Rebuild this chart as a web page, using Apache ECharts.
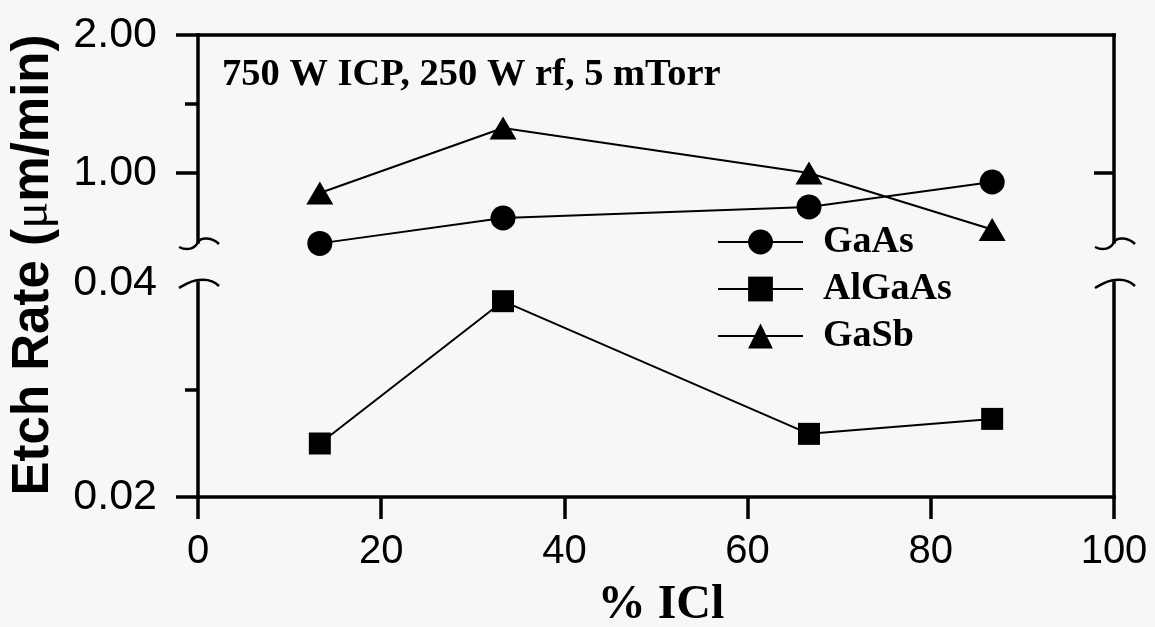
<!DOCTYPE html>
<html><head><meta charset="utf-8">
<script src="https://cdn.jsdelivr.net/npm/echarts@6/dist/echarts.min.js"></script>
<style>html,body{margin:0;padding:0;background:#f7f7f7}#c{width:1155px;height:627px}</style>
</head><body><div id="c"></div>
<script>
// ---- data ----
const xValues = [13.3, 33.3, 66.7, 86.7];
const gaas = [0.49, 0.674, 0.754, 0.935];
const algaas = [0.0250, 0.0383, 0.0259, 0.0273];
const gasb = [0.855, 1.326, 1.0, 0.59];
const seriesNames = ['GaAs', 'AlGaAs', 'GaSb'];
const upperLabels = [1, 2];
const upperMinor = [1.5];
const lowerLabels = [0.02, 0.04];
const lowerMinor = [0.03];
const titleText = '750 W ICP, 250 W rf, 5 mTorr';
const xTitle = '% ICl';

const SANS = '"Liberation Sans", Arial, sans-serif';
const SERIF = '"Liberation Serif", "Times New Roman", serif';
const AX = 3.5;
const lineS = {color: '#000', width: AX, cap: 'square'};
const tickS = {color: '#000', width: AX};

const chart = echarts.init(document.getElementById('c'), null, {renderer: 'canvas'});

const pair = arr => xValues.map((x, i) => [x, arr[i]]);

const option = {
  backgroundColor: '#f7f7f7',
  animation: false,
  grid: [
    {left: 198, right: 41, top: 35, height: 207, outerBoundsMode: 'none', containLabel: false},
    {left: 198, right: 41, top: 283, height: 214, outerBoundsMode: 'none', containLabel: false}
  ],
  xAxis: [
    {gridIndex: 0, type: 'value', min: 0, max: 100, interval: 20, position: 'top',
     axisLine: {show: true, onZero: false, lineStyle: lineS}, axisTick: {show: false},
     axisLabel: {show: false}, splitLine: {show: false}},
    {gridIndex: 1, type: 'value', min: 0, max: 100, interval: 20, position: 'bottom',
     axisLine: {show: true, onZero: false, lineStyle: lineS},
     axisTick: {show: true, length: 22, lineStyle: tickS},
     axisLabel: {margin: 35, fontSize: 40, fontFamily: SANS, color: '#000'},
     splitLine: {show: false}}
  ],
  yAxis: [
    {gridIndex: 0, type: 'value', min: 0.5, max: 2, interval: 0.5, position: 'left',
     axisLine: {show: true, onZero: false, lineStyle: lineS},
     axisTick: {show: true, length: 22, customValues: upperLabels, lineStyle: tickS},
     axisLabel: {customValues: upperLabels, formatter: v => Number(v).toFixed(2), margin: 41,
                 fontSize: 43, fontFamily: SANS, color: '#000'},
     splitLine: {show: false}},
    {gridIndex: 0, type: 'value', min: 0.5, max: 2, interval: 0.5, position: 'left',
     axisLine: {show: false, onZero: false},
     axisTick: {show: true, length: 13, customValues: upperMinor, lineStyle: tickS},
     axisLabel: {show: false}, splitLine: {show: false}},
    {gridIndex: 0, type: 'value', min: 0.5, max: 2, interval: 0.5, position: 'right',
     axisLine: {show: true, onZero: false, lineStyle: lineS},
     axisTick: {show: true, inside: true, length: 20, customValues: [1], lineStyle: tickS},
     axisLabel: {show: false}, splitLine: {show: false}},
    {gridIndex: 1, type: 'value', min: 0.02, max: 0.04, interval: 0.01, position: 'left',
     axisLine: {show: true, onZero: false, lineStyle: lineS},
     axisTick: {show: true, length: 22, customValues: [0.02], lineStyle: tickS},
     axisLabel: {customValues: lowerLabels, formatter: v => Number(v).toFixed(2), margin: 41,
                 fontSize: 43, fontFamily: SANS, color: '#000'},
     splitLine: {show: false}},
    {gridIndex: 1, type: 'value', min: 0.02, max: 0.04, interval: 0.01, position: 'left',
     axisLine: {show: false, onZero: false},
     axisTick: {show: true, length: 13, customValues: lowerMinor, lineStyle: tickS},
     axisLabel: {show: false}, splitLine: {show: false}},
    {gridIndex: 1, type: 'value', min: 0.02, max: 0.04, interval: 0.01, position: 'right',
     axisLine: {show: true, onZero: false, lineStyle: lineS},
     axisTick: {show: false}, axisLabel: {show: false}, splitLine: {show: false}}
  ],
  legend: {
    data: seriesNames, orient: 'vertical', left: 717, top: 223, padding: 0,
    itemWidth: 85, itemHeight: 31, itemGap: 9, selectedMode: false,
    textStyle: {fontFamily: SERIF, fontWeight: 'bold', fontSize: 38, color: '#000',
                padding: [0, 0, 0, 15]}
  },
  series: [
    {name: 'GaAs', type: 'line', xAxisIndex: 0, yAxisIndex: 0, data: pair(gaas),
     symbol: 'circle', symbolSize: 25, clip: false,
     lineStyle: {color: '#000', width: 2}, itemStyle: {color: '#000'}},
    {name: 'AlGaAs', type: 'line', xAxisIndex: 1, yAxisIndex: 3, data: pair(algaas),
     symbol: 'rect', symbolSize: 22, clip: false,
     lineStyle: {color: '#000', width: 2}, itemStyle: {color: '#000'}},
    {name: 'GaSb', type: 'line', xAxisIndex: 0, yAxisIndex: 0, data: pair(gasb),
     symbol: 'triangle', symbolSize: [27, 23], clip: false,
     lineStyle: {color: '#000', width: 2}, itemStyle: {color: '#000'}}
  ]
};
chart.setOption(option);

// axis-break squiggles and texts placed from the axes' own scales
const gfx = [];
const sq = (id, p, kind) => {
  const [x, y] = p;
  const st = {stroke: '#000', lineWidth: 2.5, fill: null};
  if (kind === 'upper') {
    gfx.push({id: id + 'a', type: 'bezierCurve', silent: true, style: st,
      shape: {x1: x - 19, y1: y + 5, cpx1: x - 11, cpy1: y + 9, cpx2: x - 3, cpy2: y + 7, x2: x, y2: y}});
    gfx.push({id: id + 'b', type: 'bezierCurve', silent: true, style: st,
      shape: {x1: x, y1: y, cpx1: x + 3, cpy1: y - 5, cpx2: x + 14, cpy2: y - 5, x2: x + 21, y2: y + 2}});
  } else {
    gfx.push({id: id + 'a', type: 'bezierCurve', silent: true, style: st,
      shape: {x1: x - 19, y1: y + 5, cpx1: x - 12, cpy1: y + 1, cpx2: x - 6, cpy2: y - 3, x2: x + 1, y2: y - 3}});
    gfx.push({id: id + 'b', type: 'bezierCurve', silent: true, style: st,
      shape: {x1: x + 1, y1: y - 3, cpx1: x + 9, cpy1: y - 4, cpx2: x + 16, cpy2: y - 2, x2: x + 21, y2: y + 3}});
  }
};
sq('ul', chart.convertToPixel({xAxisIndex: 0, yAxisIndex: 0}, [0, 0.5]), 'upper');
sq('ur', chart.convertToPixel({xAxisIndex: 0, yAxisIndex: 2}, [100, 0.5]), 'upper');
sq('ll', chart.convertToPixel({xAxisIndex: 1, yAxisIndex: 3}, [0, 0.04]), 'lower');
sq('lr', chart.convertToPixel({xAxisIndex: 1, yAxisIndex: 5}, [100, 0.04]), 'lower');

gfx.push({id: 'title', type: 'text', x: 222, y: 75, silent: true,
  style: {text: titleText, fontFamily: SERIF, fontWeight: 'bold', fontSize: 38.5, fill: '#000',
          align: 'left', verticalAlign: 'middle'}});
gfx.push({id: 'xtitle', type: 'text', x: 661, y: 606, silent: true,
  style: {text: xTitle, fontFamily: SERIF, fontWeight: 'bold', fontSize: 48, fill: '#000',
          align: 'center', verticalAlign: 'middle'}});
gfx.push({id: 'ytitle', type: 'text', x: 34, y: 265, rotation: Math.PI / 2, silent: true,
  style: {text: '{a|Etch Rate (}{b|μ}{a|m/min)}', align: 'center', verticalAlign: 'middle', fill: '#000',
          rich: {a: {fontFamily: SANS, fontWeight: 'bold', fontSize: 51, fill: '#000'},
                 b: {fontFamily: SERIF, fontWeight: 'normal', fontSize: 51, fill: '#000'}}}});
chart.setOption({graphic: gfx});
</script></body></html>
